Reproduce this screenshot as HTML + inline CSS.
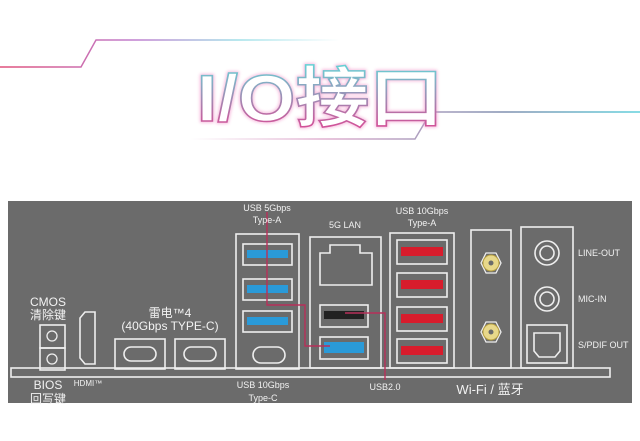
<!DOCTYPE html>
<html><head><meta charset="utf-8"><style>
body{margin:0;width:640px;height:441px;background:#fff;overflow:hidden;position:relative;font-family:"Liberation Sans","Noto Sans CJK SC",sans-serif}
svg{position:absolute;left:0;top:0}
</style></head><body>
<svg width="640" height="441" viewBox="0 0 640 441">
<defs>
<linearGradient id="g1" x1="0" x2="1"><stop offset="0" stop-color="#e0507a"/><stop offset="0.4" stop-color="#c080d0"/><stop offset="0.7" stop-color="#a0e0e8"/><stop offset="1" stop-color="#fff"/></linearGradient>
<linearGradient id="g2" x1="0" x2="1"><stop offset="0" stop-color="#fff"/><stop offset="0.3" stop-color="#e0b0d0"/><stop offset="0.7" stop-color="#8090b0"/><stop offset="1" stop-color="#60d0dc"/></linearGradient>
<linearGradient id="tg" x1="0" x2="0" y1="0" y2="1"><stop offset="0" stop-color="#60d8d8"/><stop offset="1" stop-color="#e04090"/></linearGradient>
<filter id="glow"><feGaussianBlur stdDeviation="1.5"/></filter>
</defs>
<polyline points="0,67 81,67 96,40 340,40" fill="none" stroke="url(#g1)" stroke-width="1.5"/>
<polyline points="190,139 415,139 431,112 640,112" fill="none" stroke="url(#g2)" stroke-width="1.5"/>
<g transform="translate(320,121) scale(1.12,1)">
<text x="0" y="0" text-anchor="middle" font-size="66" font-weight="bold" fill="none" stroke="#f080c0" stroke-width="3" opacity="0.6" filter="url(#glow)" font-family="Liberation Sans,Noto Sans CJK SC,sans-serif">I/O接口</text>
<text x="0" y="0" text-anchor="middle" font-size="66" font-weight="bold" fill="#fff" stroke="url(#tg)" stroke-width="1.5" font-family="Liberation Sans,Noto Sans CJK SC,sans-serif">I/O接口</text>
</g>
<rect x="8" y="201" width="624" height="202" fill="#6b6b6b"/>
<g fill="none" stroke="#eee" stroke-width="1.6">
<rect x="11" y="368" width="599" height="9"/>
<rect x="40" y="325" width="25" height="23"/><rect x="40" y="348" width="25" height="22"/>
<path d="M85,312 h10 v52 h-10 l-5,-6 v-40 z"/>
<rect x="115" y="339" width="50" height="30"/><rect x="175" y="339" width="50" height="30"/>
<rect x="124" y="347" width="32" height="14" rx="7"/><rect x="184" y="347" width="32" height="14" rx="7"/>
<rect x="236" y="234" width="63" height="135"/>
<rect x="243" y="244" width="49" height="21"/><rect x="243" y="279" width="49" height="21"/><rect x="243" y="311" width="49" height="21"/>
<rect x="253" y="347" width="32" height="16" rx="8"/>
<rect x="310" y="237" width="71" height="131"/>
<path d="M320,253 h10 v-8 h30 v8 h12 v32 h-52 z"/>
<rect x="320" y="305" width="48" height="22"/><rect x="320" y="337" width="48" height="22"/>
<rect x="390" y="233" width="64" height="135"/>
<rect x="397" y="240" width="50" height="24"/><rect x="397" y="273" width="50" height="24"/><rect x="397" y="307" width="50" height="24"/><rect x="397" y="339" width="50" height="24"/>
<rect x="471" y="230" width="40" height="138"/>
<rect x="521" y="227" width="52" height="141"/>
<circle cx="547" cy="253" r="12"/><circle cx="547" cy="253" r="7"/>
<circle cx="547" cy="299" r="12"/><circle cx="547" cy="299" r="7"/>
<rect x="527" y="325" width="40" height="38"/>
<path d="M534,333 h26 v18 l-5,6 h-16 l-5,-6 z"/>
</g>
<g fill="none" stroke="#eee" stroke-width="1.3"><circle cx="52" cy="336" r="5"/><circle cx="52" cy="359" r="5"/></g>
<g fill="#2a9ad8"><rect x="247" y="250" width="41" height="8"/><rect x="247" y="285" width="41" height="8"/><rect x="247" y="317" width="41" height="8"/><rect x="324" y="342" width="40" height="11"/></g>
<rect x="324" y="311" width="40" height="8" fill="#222"/>
<g fill="#d81c2c"><rect x="401" y="247" width="42" height="9"/><rect x="401" y="280" width="42" height="9"/><rect x="401" y="314" width="42" height="9"/><rect x="401" y="346" width="42" height="9"/></g>
<g><polygon points="481,263 486,253 496,253 501,263 496,273 486,273" fill="#6b6b6b" stroke="#eee" stroke-width="1.3"/><circle cx="491" cy="263" r="8" fill="#e8d88a" stroke="#b8a040"/><circle cx="491" cy="263" r="2.5" fill="#6b6b6b"/>
<polygon points="481,332 486,322 496,322 501,332 496,342 486,342" fill="#6b6b6b" stroke="#eee" stroke-width="1.3"/><circle cx="491" cy="332" r="8" fill="#e8d88a" stroke="#b8a040"/><circle cx="491" cy="332" r="2.5" fill="#6b6b6b"/></g>
<g fill="none" stroke="#b8305a" stroke-width="1.4">
<polyline points="267,212 267,305 305,305 305,346 330,346"/>
<polyline points="345,313 385,313 385,380"/>
</g>
<g fill="#f2f2f2" font-size="9" text-anchor="middle">
<text x="267" y="211">USB 5Gbps</text><text x="267" y="223">Type-A</text>
<text x="345" y="228">5G LAN</text>
<text x="422" y="214">USB 10Gbps</text><text x="422" y="226">Type-A</text>
<text x="263" y="388">USB 10Gbps</text><text x="263" y="401">Type-C</text>
<text x="385" y="390">USB2.0</text>
<text x="490" y="394" font-size="13">Wi-Fi / 蓝牙</text>
<text x="48" y="306" font-size="12">CMOS</text><text x="48" y="319" font-size="12">清除键</text>
<text x="48" y="389" font-size="12">BIOS</text><text x="48" y="403" font-size="12">回写键</text>
<text x="88" y="386" font-size="8">HDMI™</text>
<text x="170" y="317" font-size="12">雷电™4</text><text x="170" y="330" font-size="12">(40Gbps TYPE-C)</text>
<text x="578" y="256" text-anchor="start">LINE-OUT</text>
<text x="578" y="302" text-anchor="start">MIC-IN</text>
<text x="578" y="348" text-anchor="start">S/PDIF OUT</text>
</g>
</svg>
</body></html>
